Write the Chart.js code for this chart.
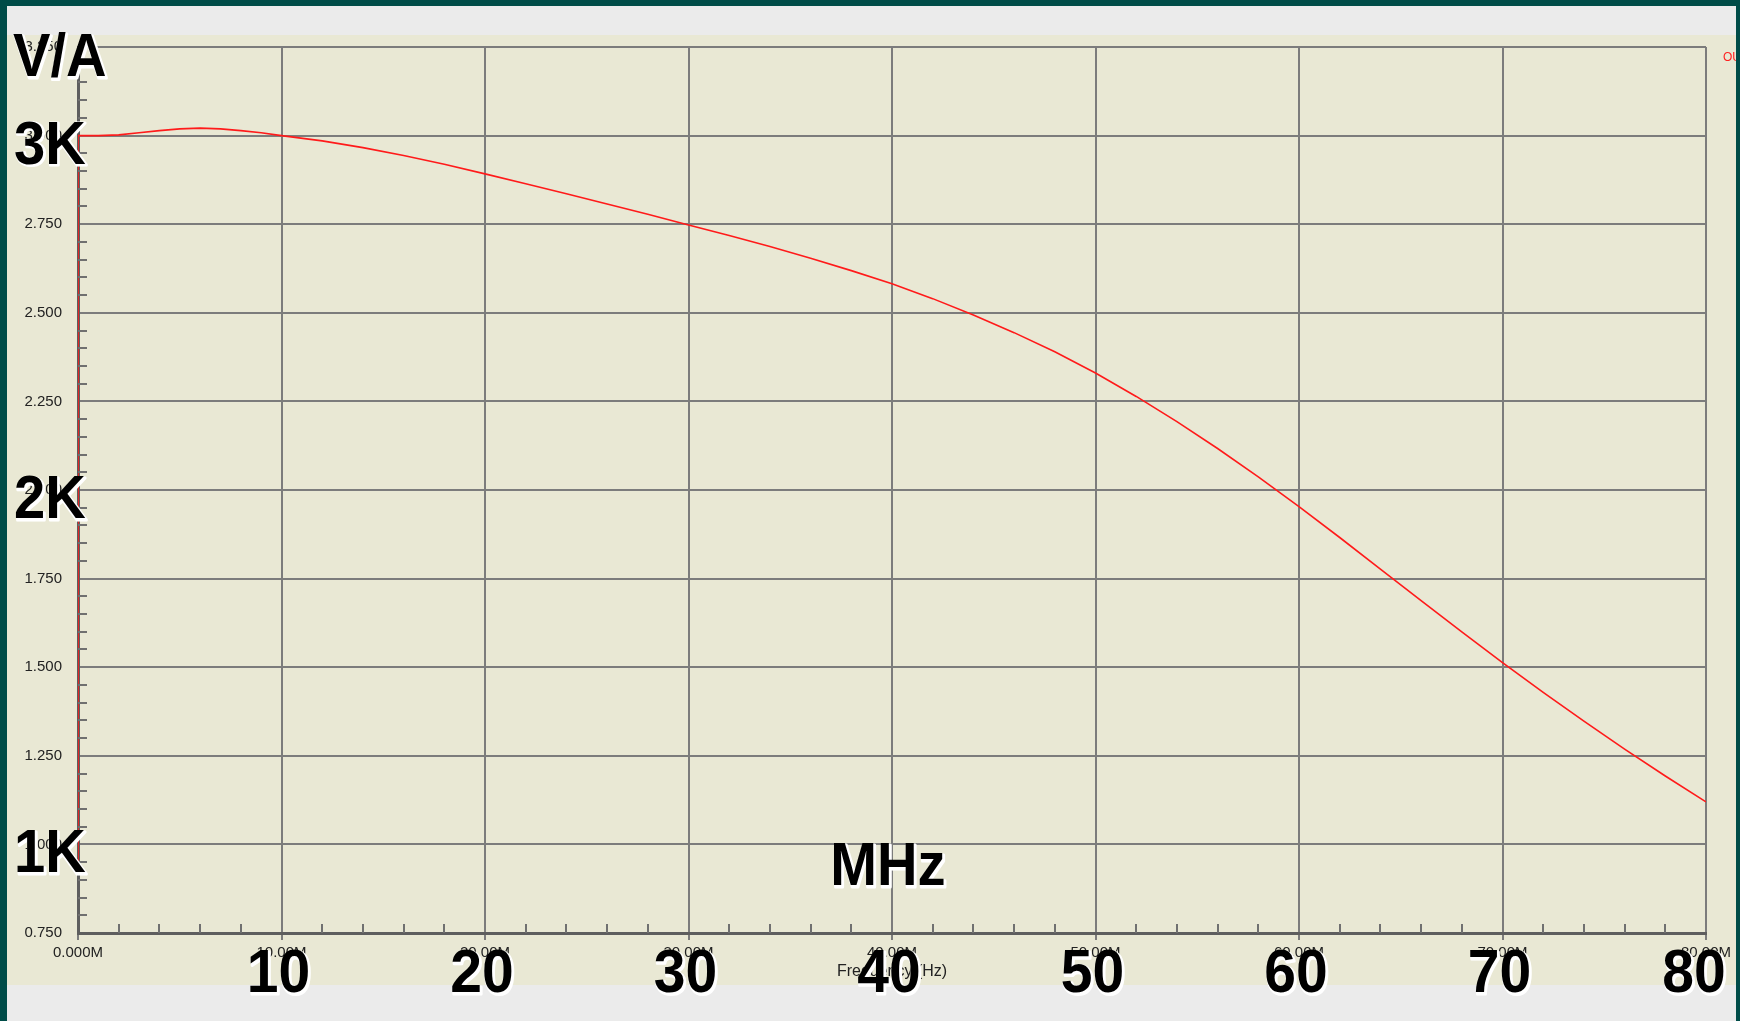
<!DOCTYPE html>
<html>
<head>
<meta charset="utf-8">
<script src="https://cdn.jsdelivr.net/npm/chart.js@4.4.0/dist/chart.umd.min.js"></script>
<style>
  html, body { margin: 0; padding: 0; background: #004c48; }
  #wrap { position: relative; width: 1740px; height: 1021px; }
</style>
</head>
<body>
<div id="wrap"><canvas id="chart"></canvas></div>
<script>
// frequency in MHz, transfer impedance in kV/A
const freq = [0, 0, 1, 2, 3, 4, 5, 6, 7, 8, 9, 10, 12, 14, 16, 18, 20, 22, 24, 26, 28, 30,
              32, 34, 36, 38, 40, 42, 44, 46, 48, 50, 52, 54, 56, 58, 60,
              62, 64, 66, 68, 70, 72, 74, 76, 78, 80];
const outVals = [0.92, 3.000, 3.000, 3.002, 3.008, 3.014, 3.019, 3.021, 3.019, 3.014, 3.008, 3.000,
                 2.985, 2.966, 2.944, 2.919, 2.892, 2.864, 2.836, 2.807, 2.778, 2.748,
                 2.718, 2.687, 2.654, 2.619, 2.582, 2.540, 2.494, 2.444, 2.390, 2.330,
                 2.264, 2.193, 2.117, 2.037, 1.953, 1.866, 1.777, 1.688, 1.600, 1.513,
                 1.429, 1.348, 1.269, 1.193, 1.120];

// big overlay labels
const yBigLabels = [{ text: '3K', v: 3.0 }, { text: '2K', v: 2.0 }, { text: '1K', v: 1.0 }];
const xBigLabels = [10, 20, 30, 40, 50, 60, 70, 80];

const FONT = '"Liberation Sans", Arial, sans-serif';

function bigText(ctx, text, x, y, size, align) {
    ctx.save();
    ctx.font = 'bold ' + size + 'px ' + FONT;
    ctx.translate(x, y);
    ctx.scale(0.92, 1);
    ctx.textAlign = align;
    ctx.textBaseline = 'alphabetic';
    ctx.lineJoin = 'round';
    ctx.strokeStyle = '#fff';
    ctx.lineWidth = 3;
    ctx.fillStyle = '#fff';
    ctx.strokeText(text, 1.5, 1.5);
    ctx.fillText(text, 2, 2);
    ctx.fillStyle = '#000';
    ctx.fillText(text, 0, 0);
    ctx.restore();
}

const framePlugin = {
    id: 'frame',
    beforeDraw(chart) {
        const ctx = chart.ctx;
        ctx.save();
        ctx.fillStyle = '#004c48';
        ctx.fillRect(0, 0, 1740, 1021);
        ctx.fillStyle = '#ebebeb';
        ctx.fillRect(7, 6, 1729, 1015);
        ctx.fillStyle = '#e9e8d4';
        ctx.fillRect(7, 35, 1729, 950);
        ctx.restore();
    },
    afterDraw(chart) {
        const ctx = chart.ctx;
        const x = chart.scales.x, y = chart.scales.y;

        // minor ticks inside the plot
        ctx.save();
        ctx.strokeStyle = '#707070';
        ctx.lineWidth = 2;
        ctx.beginPath();
        for (let f = 2; f < 80; f += 2) {
            if (f % 10 === 0) continue;
            const px = Math.round(x.getPixelForValue(f));
            ctx.moveTo(px, y.bottom);
            ctx.lineTo(px, y.bottom - 9);
        }
        for (let i = 1; i < 50; i++) {
            if (i % 5 === 0) continue;
            const py = Math.round(y.getPixelForValue(0.75 + i * 0.05));
            ctx.moveTo(x.left, py);
            ctx.lineTo(x.left + 9, py);
        }
        ctx.stroke();
        ctx.restore();

        // legend entry, clipped by the window border
        ctx.save();
        ctx.beginPath();
        ctx.rect(0, 0, 1736, 1021);
        ctx.clip();
        ctx.font = '12px ' + FONT;
        ctx.fillStyle = '#ff2020';
        ctx.textBaseline = 'middle';
        ctx.fillText('OUT', 1723, 58);
        ctx.restore();

        // overlay labels
        bigText(ctx, 'V/A', 13, 76, 61, 'left');
        yBigLabels.forEach(l => bigText(ctx, l.text, 14, y.getPixelForValue(l.v) + 28, 61, 'left'));
        bigText(ctx, 'MHz', x.getPixelForValue(40) - 4, y.getPixelForValue(0.75) - 48, 61, 'center');
        xBigLabels.forEach(v => {
            const cx = Math.min(x.getPixelForValue(v) - 3, 1694);
            bigText(ctx, String(v), cx, 992, 62, 'center');
        });
    }
};

new Chart(document.getElementById('chart'), {
    type: 'line',
    data: {
        datasets: [{
            label: 'OUT',
            data: freq.map((f, i) => ({ x: f, y: outVals[i] })),
            borderColor: '#ff1a1a',
            borderWidth: 1.6,
            pointRadius: 0,
            tension: 0,
            fill: false
        }]
    },
    options: {
        responsive: true,
        maintainAspectRatio: false,
        animation: false,
        layout: { padding: { top: 47, right: 34, left: 0, bottom: 0 } },
        plugins: {
            legend: { display: false },
            tooltip: { enabled: false }
        },
        scales: {
            x: {
                type: 'linear',
                min: 0,
                max: 80,
                afterFit: s => { s.height = 88; },
                ticks: {
                    stepSize: 10,
                    autoSkip: false,
                    maxRotation: 0,
                    padding: 4,
                    color: '#222',
                    font: { family: FONT, size: 15 },
                    callback: v => v === 0 ? '0.000M' : v.toFixed(2) + 'M'
                },
                grid: { color: '#7c7c7c', lineWidth: 2, tickLength: 7, tickColor: '#7c7c7c' },
                border: { color: '#5e5e5e', width: 3 },
                title: {
                    display: true,
                    text: 'Frequency (Hz)',
                    color: '#222',
                    font: { family: FONT, size: 16 },
                    padding: { top: 0, bottom: 40 }
                }
            },
            y: {
                type: 'linear',
                min: 0.75,
                max: 3.25,
                afterFit: s => { s.width = 78; },
                ticks: {
                    stepSize: 0.25,
                    padding: 16,
                    color: '#222',
                    font: { family: FONT, size: 15 },
                    callback: v => v.toFixed(3)
                },
                grid: { color: '#7c7c7c', lineWidth: 2, drawTicks: false },
                border: { color: '#5e5e5e', width: 3 }
            }
        }
    },
    plugins: [framePlugin]
});
</script>
</body>
</html>
